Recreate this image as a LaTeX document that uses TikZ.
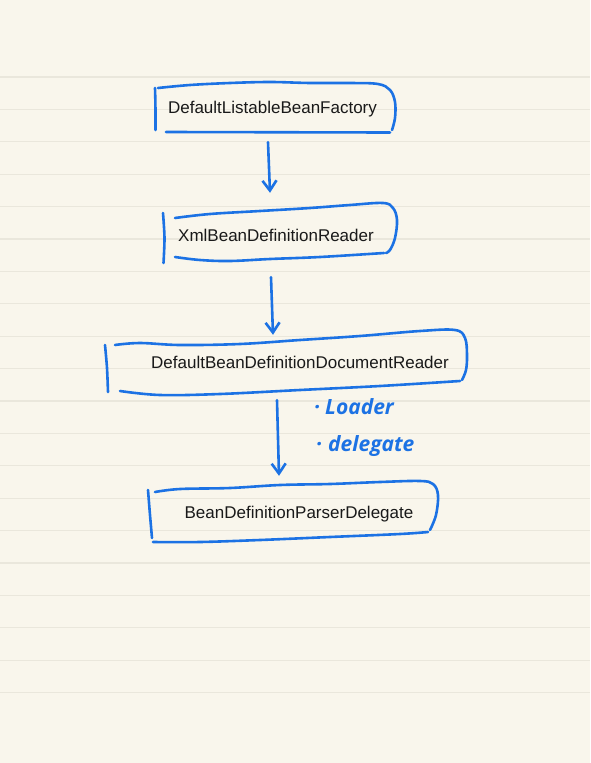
\documentclass[tikz,border=0pt]{standalone}
\usepackage{fontspec}
\setmainfont{Liberation Sans}
\newfontfamily\handfont{Open Sans}
\usetikzlibrary{arrows.meta}
\definecolor{paper}{RGB}{249,246,236}
\definecolor{rulecol}{RGB}{234,231,220}
\definecolor{pencol}{RGB}{28,114,228}
\definecolor{inkcol}{RGB}{25,25,25}
\begin{document}
\begin{tikzpicture}[x=1pt,y=-1pt,
  penline/.style={draw=pencol,line width=2.6pt,line cap=round,line join=round},
  arr/.style={penline,-{Straight Barb[length=10pt,width=14pt]}},
  boxtext/.style={font=\fontsize{17}{20}\selectfont,text=inkcol,inner sep=0pt,text height=12.5pt,text depth=3.5pt},
  handtext/.style={font=\handfont\bfseries\itshape\fontsize{21}{24}\selectfont,text=pencol,anchor=base west,inner sep=0pt}]
\fill[paper] (0,0) rectangle (590,763);
\useasboundingbox (0,0) rectangle (590,763);
\foreach \k in {0,...,19}
  \draw[rulecol,line width=1.2pt] (0,{77+32.4*\k}) -- (590,{77+32.4*\k});

% texts (nodes)
\node[boxtext,minimum height=46pt] (b1) at (272.5,108.5) {DefaultListableBeanFactory};
\node[boxtext,minimum height=50pt] (b2) at (276,236.5) {XmlBeanDefinitionReader};
\node[boxtext,minimum height=46pt] (b3) at (300,363.5) {DefaultBeanDefinitionDocumentReader};
\node[boxtext,minimum height=50pt] (b4) at (299,513.5) {BeanDefinitionParserDelegate};

% hand-drawn boxes
% box 1
\draw[penline] (155,88) .. controls (155.5,105) .. (155.5,130);
\draw[penline] plot[smooth,tension=0.6] coordinates {(158,88) (190,85) (230,83) (270,82) (310,83) (350,83) (378,84) (390,90) (395,102) (395,118) (392,130)};
\draw[penline] (166,132) -- (390,132.5);
% box 2
\draw[penline] plot[smooth] coordinates {(163,213) (164.5,238) (163.5,263)};
\draw[penline] plot[smooth,tension=0.6] coordinates {(175,218) (210,214) (260,211) (310,208) (350,205) (383,203) (393,208) (397,220) (395,238) (390,250) (386,253)};
\draw[penline] plot[smooth,tension=0.6] coordinates {(175,257) (200,260) (230,261) (270,259) (320,257) (384,253)};
% box 3
\draw[penline] plot[smooth] coordinates {(105,345) (107,368) (108,392)};
\draw[penline] plot[smooth,tension=0.6] coordinates {(115,345) (140,343) (180,345) (240,344) (300,340) (360,336) (420,331) (455,330) (465,338) (467,355) (466,370) (462,380)};
\draw[penline] plot[smooth,tension=0.6] coordinates {(120,391) (160,395) (220,394) (300,390) (380,386) (460,381)};
% box 4
\draw[penline] plot[smooth] coordinates {(148,490) (150,515) (152,538)};
\draw[penline] plot[smooth,tension=0.6] coordinates {(155,492) (180,489) (230,488) (280,485) (330,484) (380,482) (420,481) (433,484) (438,495) (436,515) (430,530)};
\draw[penline] plot[smooth,tension=0.6] coordinates {(153,542) (200,542) (260,540) (330,537) (400,534) (428,532)};

% connectors
\draw[arr] ([shift={(-4.5,10.5)}]b1.south) -- ([shift={(-6,-18.5)}]b2.north);
\draw[arr] ([shift={(-5,15.5)}]b2.south) -- ([shift={(-27,-5.5)}]b3.north);
\draw[arr] ([shift={(-23,13.5)}]b3.south) -- ([shift={(-20,-12.5)}]b4.north);

% handwritten notes
\node[handtext] (n1) at (314,414) {·\hspace{5pt}Loader};
\node[handtext] (n2) at (316,451) {·\hspace{6pt}delegate};
\end{tikzpicture}
\end{document}
